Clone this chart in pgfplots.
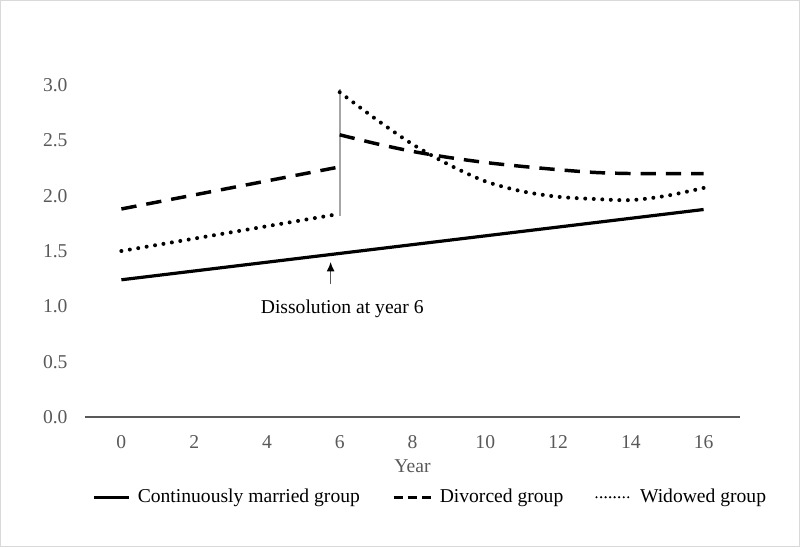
\documentclass[border=0pt]{standalone}
\usepackage{fontspec}
\setmainfont{Liberation Serif}
\usepackage{pgfplots}
\pgfplotsset{compat=1.18}
\usetikzlibrary{arrows.meta}
\definecolor{txtgray}{HTML}{595959}
\definecolor{axgray}{HTML}{595959}
\definecolor{vgray}{HTML}{A6A6A6}
\definecolor{framegray}{HTML}{D9D9D9}
\begin{document}
\fontsize{14.7}{17.6}\selectfont
\begin{tikzpicture}
\path[use as bounding box] (-63.75pt,-97.5pt) rectangle (536.25pt,312.75pt);
\draw[framegray, line width=0.75pt] (-63.375pt,-97.125pt) rectangle (535.875pt,312.375pt);
\begin{axis}[
  at={(0,0)}, anchor=south west,
  scale only axis, width=491.25pt, height=249pt,
  xmin=-1, xmax=17, ymin=0, ymax=3,
  xtick={0,2,4,6,8,10,12,14,16},
  ytick={0,0.5,1,1.5,2,2.5,3},
  axis x line*=bottom, axis y line*=left,
  y axis line style={draw=none},
  x axis line style={draw=axgray, line width=1pt},
  major tick length=0pt,
  /pgf/number format/assume math mode=true,
  tick label style={text=txtgray},
  yticklabel style={xshift=-8pt, /pgf/number format/.cd, fixed, fixed zerofill, precision=1},
  xticklabel style={yshift=-8.5pt},
  xlabel={Year},
  xlabel style={at={(axis description cs:0.5,-0.1486)}, anchor=center, text=txtgray},
  clip=false,
  legend columns=3,
  legend style={at={(axis description cs:0.0107,-0.2417)}, anchor=west, draw=none, fill=none, inner sep=0pt, text=black,
    /tikz/every even column/.append style={column sep=22pt},
    /tikz/every odd column/.append style={column sep=3.5pt}},
  legend image code/.code={\draw[#1] (0pt,0pt) -- (26.25pt,0pt);},
]
% gray dissolution line
\addplot[vgray, line width=1.5pt, forget plot] coordinates {(6,1.82) (6,2.96)};
% continuously married
\addplot[black, line width=2.4pt] coordinates {(0,1.24) (16,1.875)};
\addlegendentry{Continuously married group}
% divorced
\addplot[black, line width=2.6pt, dash pattern=on 11.5pt off 7.5pt,
  legend image code/.code={\draw[black, line width=2.4pt, dash pattern=on 7pt off 3.6pt] (0pt,0pt) -- (28pt,0pt);}]
  coordinates {(0,1.88) (6,2.26)};
\addlegendentry{Divorced group}
\addplot[black, line width=2.6pt, dash pattern=on 11.5pt off 7.5pt, smooth, forget plot]
  coordinates {(6,2.55) (7,2.47) (8,2.40) (9,2.345) (10,2.30) (11,2.265) (12,2.235) (13,2.21) (14,2.20) (15,2.20) (16,2.20)};
% widowed
\addplot[black, line width=3pt, line cap=round, dash pattern=on 0pt off 6.4pt,
  legend image code/.code={\draw[black, line width=1.8pt, line cap=round, dash pattern=on 0pt off 3.4pt] (0pt,0pt) -- (26.25pt,0pt);}]
  coordinates {(0,1.50) (6,1.836)};
\addlegendentry{Widowed group}
\addplot[black, line width=3pt, line cap=round, dash pattern=on 0pt off 6.4pt, smooth, forget plot]
  coordinates {(6,2.935) (7,2.69) (8,2.465) (9,2.28) (10,2.13) (11,2.04) (12,1.99) (13,1.97) (14,1.96) (15,2.00) (16,2.07)};
% annotation
\draw[line width=0.9pt, txtgray, -{Latex[length=7pt, width=6pt, color=black]}] (axis cs:5.75,1.20) -- (axis cs:5.75,1.40);
\node[text=black, anchor=center] at (axis cs:6.07,0.977) {Dissolution at year 6};
\end{axis}
\end{tikzpicture}
\end{document}
